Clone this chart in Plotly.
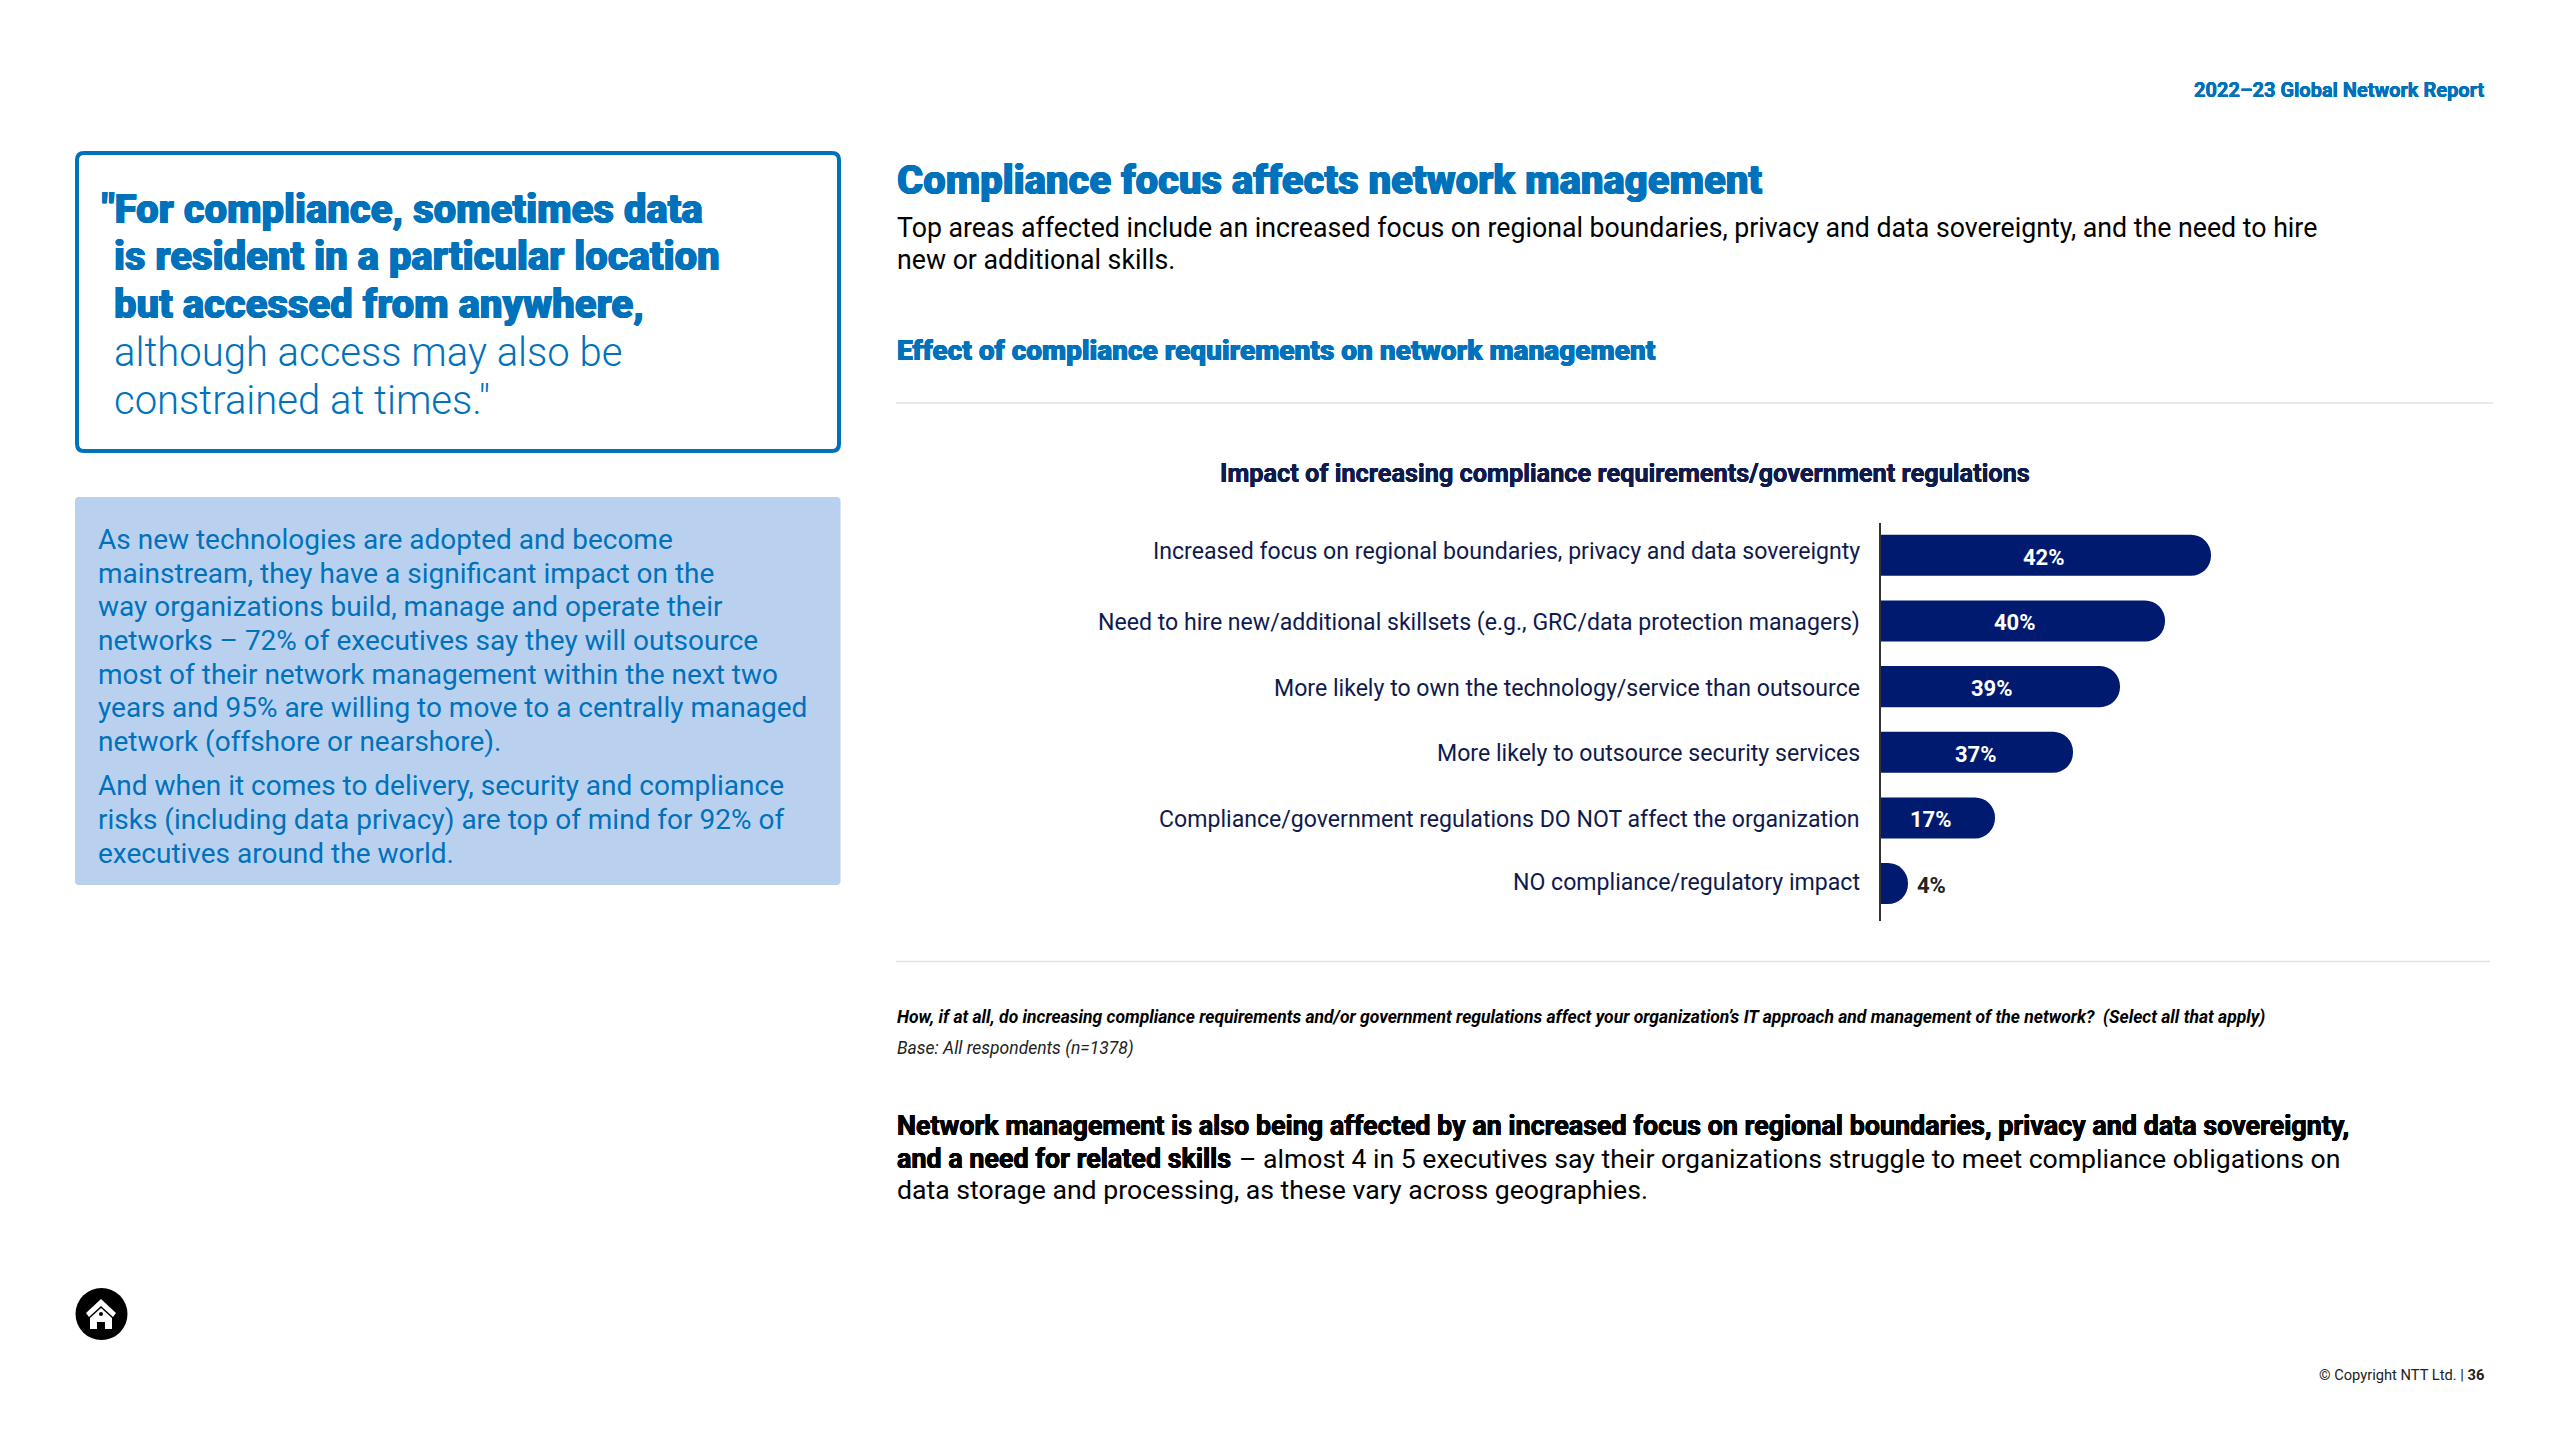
import plotly.graph_objects as go

categories = [
    "Increased focus on regional boundaries, privacy and data sovereignty",
    "Need to hire new/additional skillsets (e.g., GRC/data protection managers)",
    "More likely to own the technology/service than outsource",
    "More likely to outsource security services",
    "Compliance/government regulations DO NOT affect the organization",
    "NO compliance/regulatory impact",
]
value_labels = ["42%", "40%", "39%", "37%", "17%", "4%"]
# Drawn bar lengths (the source bars are not proportional to their labels)
bar_lengths = [330, 284, 239, 192, 114, 27]
label_nudge_y = [-3.5, 1.5, 1.5, 1.5, 1.5, -1.5]
value_nudge_x = [-2, -8, -9, -1, -7, 23]

BLUE = "#0072BC"
NAVY = "#001A70"
INK = "#0F1A4D"
FONT = "Roboto"
W, H = 2560, 1440


def px(x):
    return x / W


def py(y):
    return 1 - y / H


def heavy(color, a=0.6):
    return f"{a}px 0 0 {color}, -{a}px 0 0 {color}, 0 {a / 2}px 0 {color}"


fig = go.Figure(
    go.Bar(
        y=categories,
        x=bar_lengths,
        orientation="h",
        marker=dict(color=NAVY, line=dict(width=0), cornerradius=20),
        cliponaxis=False,
        hoverinfo="skip",
    )
)

annotations = []


def text(x, y, s, size, color="#000000", weight=400, anchor="left", style="normal", shadow="none"):
    annotations.append(
        dict(
            x=px(x), y=py(y), xref="paper", yref="paper", text=s, showarrow=False,
            xanchor=anchor, yanchor="middle", align=anchor,
            font=dict(family=FONT, size=size, color=color, weight=weight, style=style, shadow=shadow),
        )
    )


for cat, nudge in zip(categories, label_nudge_y):
    annotations.append(
        dict(x=0, y=cat, xref="x", yref="y", text=cat, showarrow=False, xanchor="right",
             xshift=-19, yshift=-nudge, font=dict(family=FONT, size=23.1, color=INK))
    )
for i, (cat, lab, length, nudge) in enumerate(zip(categories, value_labels, bar_lengths, value_nudge_x)):
    inside = i < 5
    annotations.append(
        dict(x=length / 2 if inside else length, y=cat, xref="x", yref="y", text=lab, showarrow=False,
             xanchor="center", xshift=nudge, yshift=-2,
             font=dict(family=FONT, size=22, weight=700, color="white" if inside else "#222222"))
    )

text(2486, 90, "2022–23 Global Network Report", 20, BLUE, 700, "right", shadow=heavy(BLUE, 0.15))

QX = 111.5
text(99.5, 209.5, '"For compliance, sometimes data', 40, BLUE, 900, shadow=heavy(BLUE))
text(QX, 256.5, "is resident in a particular location", 40, BLUE, 900, shadow=heavy(BLUE))
text(QX, 304.5, "but accessed from anywhere,", 40, BLUE, 900, shadow=heavy(BLUE))
text(QX, 352.5, "although access may also be", 40, BLUE, 300)
text(QX, 400.5, 'constrained at times."', 40, BLUE, 300)

for y, line in zip(
    [539.5, 573.5, 606.5, 640.5, 674.5, 707.5, 742, 786, 819.5, 853],
    [
        "As new technologies are adopted and become",
        "mainstream, they have a significant impact on the",
        "way organizations build, manage and operate their",
        "networks – 72% of executives say they will outsource",
        "most of their network management within the next two",
        "years and 95% are willing to move to a centrally managed",
        "network (offshore or nearshore).",
        "And when it comes to delivery, security and compliance",
        "risks (including data privacy) are top of mind for 92% of",
        "executives around the world.",
    ],
):
    text(95.5, y, line, 28.0, BLUE)

text(894.5, 180.5, "Compliance focus affects network management", 40, BLUE, 900, shadow=heavy(BLUE))
text(894.5, 228, "Top areas affected include an increased focus on regional boundaries, privacy and data sovereignty, and the need to hire", 26.72)
text(894.5, 260, "new or additional skills.", 26.72)
text(894.5, 350, "Effect of compliance requirements on network management", 28, BLUE, 900, shadow=heavy(BLUE, 0.45))
text(1624.5, 473.5, "Impact of increasing compliance requirements/government regulations", 25.3, INK, 700, "center", shadow=heavy(INK, 0.2))
text(894.5, 1017, "How, if at all, do increasing compliance requirements and/or government regulations affect your organization’s IT approach and management of the network?  (Select all that apply)", 17.53, "#000000", 700, style="italic")
text(894.5, 1048, "Base: All respondents (n=1378)", 17.5, "#222222", 400, style="italic")
text(894.5, 1126, "Network management is also being affected by an increased focus on regional boundaries, privacy and data sovereignty,", 26.9, "#000000", 700, shadow=heavy("#000000", 0.4))
text(894.5, 1158.5, "and a need for related skills", 26.9, "#000000", 700, shadow=heavy("#000000", 0.4))
text(1237, 1158.5, "– almost 4 in 5 executives say their organizations struggle to meet compliance obligations on", 26.6)
text(894.5, 1190, "data storage and processing, as these vary across geographies.", 26.65)
text(2486, 1375, "© Copyright NTT Ltd. | <b>36</b>", 14.7, "#222222", 400, "right")


def path_rect(x0, y0, x1, y1, r):
    X0, X1, Y0, Y1 = px(x0), px(x1), py(y0), py(y1)
    rx, ry = r / W, r / H
    return (
        f"M{X0 + rx},{Y0} L{X1 - rx},{Y0} Q{X1},{Y0} {X1},{Y0 - ry} L{X1},{Y1 + ry} "
        f"Q{X1},{Y1} {X1 - rx},{Y1} L{X0 + rx},{Y1} Q{X0},{Y1} {X0},{Y1 + ry} "
        f"L{X0},{Y0 - ry} Q{X0},{Y0} {X0 + rx},{Y0} Z"
    )


def poly(points, color, line_color=None, line_width=0):
    d = "M" + " L".join(f"{px(a)},{py(b)}" for a, b in points) + " Z"
    return dict(type="path", xref="paper", yref="paper", path=d, fillcolor=color,
                line=dict(color=line_color or color, width=line_width), layer="above")


shapes = [
    dict(type="path", xref="paper", yref="paper", path=path_rect(77, 153, 839, 451, 7),
         fillcolor="white", line=dict(color=BLUE, width=4), layer="below"),
    dict(type="path", xref="paper", yref="paper", path=path_rect(75, 497, 840.5, 885, 4),
         fillcolor="#B9D1EE", line=dict(width=0), layer="below"),
    dict(type="line", xref="paper", yref="paper", x0=px(896), x1=px(2493), y0=py(403), y1=py(403),
         line=dict(color="#E3E3E3", width=1.5), layer="below"),
    dict(type="line", xref="paper", yref="paper", x0=px(896), x1=px(2490), y0=py(961.5), y1=py(961.5),
         line=dict(color="#E3E3E3", width=1.5), layer="below"),
    dict(type="circle", xref="paper", yref="paper", x0=px(75.5), x1=px(127.5), y0=py(1288), y1=py(1340),
         fillcolor="black", line=dict(width=0), layer="above"),
    poly([(101, 1299), (86, 1313), (89, 1317), (101, 1306), (113, 1317), (116, 1313)], "white"),
    poly([(101, 1308), (90, 1318), (90, 1329), (97, 1329), (97, 1322), (105, 1322), (105, 1329), (112, 1329), (112, 1318)], "white"),
    dict(type="circle", xref="paper", yref="paper", x0=px(99), x1=px(103), y0=py(1312), y1=py(1316),
         fillcolor="black", line=dict(width=0), layer="above"),
]

fig.update_layout(
    width=W, height=H, autosize=False,
    paper_bgcolor="white", plot_bgcolor="rgba(0,0,0,0)",
    margin=dict(l=0, r=0, t=0, b=0, pad=0),
    showlegend=False, bargap=0.375,
    annotations=annotations, shapes=shapes,
    xaxis=dict(domain=[px(1881), px(2493)], range=[0, 612], visible=False, fixedrange=True),
    yaxis=dict(
        domain=[py(921), py(522.5)], range=[5.57, -0.5], automargin=False,
        type="category", showline=True, linecolor="#333333", linewidth=1.5,
        showgrid=False, zeroline=False, ticks="", showticklabels=False,
    ),
)

fig.write_html("out.html", post_script="document.body.style.margin='0';", config={"displayModeBar": False})
